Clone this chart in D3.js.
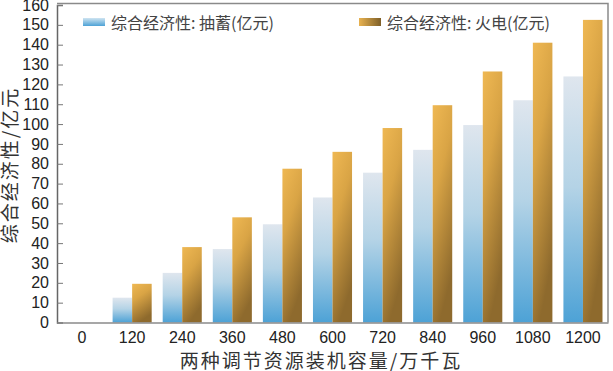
<!DOCTYPE html>
<html>
<head>
<meta charset="utf-8">
<script src="https://cdn.jsdelivr.net/npm/d3@7"></script>
<style>
  body { margin:0; background:#fff; }
  svg { display:block; }
</style>
</head>
<body>
<div class="canvas"></div>
<script>
// data
const categories = ['0','120','240','360','480','600','720','840','960','1080','1200']
const pumped = [0, 12.5, 25, 37, 49.5, 63, 75.5, 87, 99.5, 112, 124]
const thermal = [0, 19.5, 38, 53, 77.5, 86, 98, 109.5, 126.5, 141, 152.5]
const seriesNames = ['综合经济性: 抽蓄(亿元)', '综合经济性: 火电(亿元)']
const yTicks = [0,10,20,30,40,50,60,70,80,90,100,110,120,130,140,150,160]

const width = 613, height = 371
const margin = {top:5, right:5, bottom:48.5, left:57}

const svg = d3.select('.canvas').append('svg').attr('width',width).attr('height',height)

// gradients
const defs = svg.append('defs')
const gBlue = defs.append('linearGradient').attr('id','gBlue').attr('x1',0).attr('y1',0).attr('x2',0).attr('y2',1)
gBlue.append('stop').attr('offset','0%').attr('stop-color','#dfe6ee')
gBlue.append('stop').attr('offset','45%').attr('stop-color','#b4d3e6')
gBlue.append('stop').attr('offset','100%').attr('stop-color','#4da2d6')
const gOrange = defs.append('linearGradient').attr('id','gOrange').attr('x1',0).attr('y1',0).attr('x2',0.35).attr('y2',1)
gOrange.append('stop').attr('offset','0%').attr('stop-color','#efb853')
gOrange.append('stop').attr('offset','40%').attr('stop-color','#d9a445')
gOrange.append('stop').attr('offset','100%').attr('stop-color','#8e6a2d')
const gBlueLeg = defs.append('linearGradient').attr('id','gBlueLeg').attr('x1',0).attr('y1',0).attr('x2',0).attr('y2',1)
gBlueLeg.append('stop').attr('offset','0%').attr('stop-color','#cfe4f1')
gBlueLeg.append('stop').attr('offset','100%').attr('stop-color','#4da2d6')
const gOrangeLeg = defs.append('linearGradient').attr('id','gOrangeLeg').attr('x1',0).attr('y1',0).attr('x2',1).attr('y2',0)
gOrangeLeg.append('stop').attr('offset','0%').attr('stop-color','#e8b250')
gOrangeLeg.append('stop').attr('offset','100%').attr('stop-color','#7e5f28')

const x0 = d3.scaleBand().domain(categories).range([margin.left, width - margin.right]).paddingInner(0.22).paddingOuter(0.11)
const x1 = d3.scaleBand().domain([0,1]).range([0, x0.bandwidth()])
const y = d3.scaleLinear().domain([0,160]).range([height - margin.bottom, margin.top])

// frame (top + right)
svg.append('path')
  .attr('d',`M${margin.left},3.5H${width - margin.right}V${y(0)}`)
  .attr('fill','none').attr('stroke','#8a8a8a').attr('stroke-width',1.5)

// bars
const groups = svg.append('g').selectAll('g').data(categories).enter().append('g')
  .attr('transform',d=>`translate(${x0(d)},0)`)
groups.append('rect')
  .attr('x',x1(0)).attr('width',x1.bandwidth())
  .attr('y',(d,i)=>y(pumped[i])).attr('height',(d,i)=>y(0)-y(pumped[i]))
  .attr('fill','url(#gBlue)')
groups.append('rect')
  .attr('x',x1(1)).attr('width',x1.bandwidth())
  .attr('y',(d,i)=>y(thermal[i])).attr('height',(d,i)=>y(0)-y(thermal[i]))
  .attr('fill','url(#gOrange)')

// axes
const yAxisGroup = svg.append('g').attr('transform',`translate(${margin.left},0)`)
  .call(d3.axisLeft(y).tickValues(yTicks).tickSize(-6).tickPadding(8))
yAxisGroup.select('.domain').attr('stroke','#666').attr('stroke-width',1.5)
yAxisGroup.selectAll('.tick line').attr('stroke','#777')
yAxisGroup.selectAll('text').attr('font-family','"Liberation Sans", Arial, sans-serif').attr('font-size',16).attr('fill','#222')

const xAxisGroup = svg.append('g').attr('transform',`translate(0,${y(0)})`)
  .call(d3.axisBottom(x0).tickSize(0).tickPadding(9))
xAxisGroup.select('.domain').attr('stroke','#8a8a8a').attr('stroke-width',1.5)
xAxisGroup.selectAll('text').attr('font-family','"Liberation Sans", Arial, sans-serif').attr('font-size',16).attr('fill','#222')

// axis titles
svg.append('text')
  .attr('x',321).attr('y',368)
  .attr('text-anchor','middle')
  .attr('font-family','"Noto Sans CJK SC", sans-serif').attr('font-size',19).attr('letter-spacing',2)
  .attr('fill','#333')
  .text('两种调节资源装机容量/万千瓦')
svg.append('text')
  .attr('transform','translate(17,165) rotate(-90)')
  .attr('text-anchor','middle')
  .attr('font-family','"Noto Sans CJK SC", sans-serif').attr('font-size',19).attr('letter-spacing',2)
  .attr('fill','#333')
  .text('综合经济性/亿元')

// legend
const legendX = [83, 359]
const legendFill = ['url(#gBlueLeg)','url(#gOrangeLeg)']
const legend = svg.append('g').selectAll('g').data(seriesNames).enter().append('g')
  .attr('transform',(d,i)=>`translate(${legendX[i]},0)`)
legend.append('rect').attr('x',0).attr('y',18).attr('width',22).attr('height',8).attr('fill',(d,i)=>legendFill[i])
legend.append('text').attr('x',28).attr('y',29)
  .attr('font-family','"Noto Sans CJK SC", sans-serif').attr('font-size',16).attr('fill','#444')
  .text(d=>d)
</script>
</body>
</html>
